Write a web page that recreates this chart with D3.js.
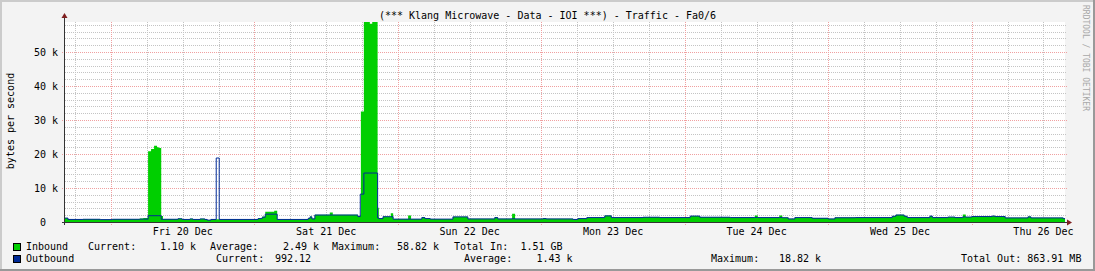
<!DOCTYPE html>
<html><head><meta charset="utf-8">
<script src="https://cdn.jsdelivr.net/npm/d3@7"></script>
<style>
body{margin:0;background:#f3f3f3}
svg{display:block}
text{font-family:"DejaVu Sans Mono",monospace;font-size:10px;white-space:pre}
</style>
</head><body><svg id="c" width="1095" height="271"></svg>
<script>
// ---------- data ----------
const title = "(*** Klang Microwave - Data - IOI ***) - Traffic - Fa0/6";
const yAxisTitle = "bytes per second";
const watermark = "RRDTOOL / TOBI OETIKER";
const startTime = Date.UTC(2013, 11, 19, 16, 18);
const spanHours = 167.3;
// hours since start where the 5-min averages change (step data)
const hours = [0,0.5,3.0,5.9,7.9,12.5,13.1,13.9,14.4,14.9,15.4,15.7,16.1,16.4,18.9,19.6,20.9,21.4,22.6,23.4,23.8,24.4,25.3,25.8,
  32.3,33.0,33.5,35.0,35.5,40.7,41.0,41.3,41.8,44.3,44.8,49.0,49.4,49.5,50.0,51.0,51.4,52.3,52.5,53.2,54.5,54.9,57.4,57.9,
  59.7,60.2,61.1,64.9,67.4,71.9,72.4,74.8,75.3,80.0,80.5,85.0,85.8,87.3,90.3,91.4,96.7,99.5,104.6,106.2,111.3,115.4,115.9,
  119.5,120.0,121.0,122.1,125.0,127.7,128.8,132.2,138.4,139.0,140.4,140.9,144.7,145.1,147.7,148.9,150.2,150.7,151.7,155.1,
  155.6,157.3,161.1,161.6,167.0];
const inbound = [1200,800,850,750,850,1000,1200,20800,21500,22400,22000,21800,1800,850,1000,800,950,800,950,800,600,800,800,800,
  1100,1600,3000,3300,800,1200,1600,1000,2100,2800,2100,1800,2100,32500,58820,58300,58820,4200,1200,1600,2600,900,1900,900,
  1500,1100,900,1550,950,1500,950,2400,950,1200,950,800,1100,1350,1900,1350,1450,1350,1800,1450,1350,1900,1350,
  1900,1300,950,1350,1150,950,1300,1350,1800,2100,1800,1350,1800,1350,1500,1350,2200,1500,1650,1800,
  1650,1250,1600,1250,1100];
const outbound = [1150,750,800,700,800,850,850,1850,1850,1850,1850,1850,800,800,950,750,900,750,900,750,550,750,18820,750,
  1000,1400,2300,2300,750,1100,1500,900,2050,2050,2050,1600,8200,8200,14400,14400,14400,1200,1000,1550,1550,850,850,850,
  1300,1000,850,1500,900,1300,900,950,900,1000,900,750,1000,1300,1800,1300,1400,1300,1750,1400,1300,1350,1300,
  1350,1250,900,1300,1100,900,1250,1300,1700,2050,1700,1300,1750,1300,1450,1300,1500,1450,1600,1750,
  1600,1200,1500,1200,992];
const yMax = 58820;
const yTicks = [0,10000,20000,30000,40000,50000];
const yTickNums = ["0","10","20","30","40","50"];
const yTickUnits = ["","k","k","k","k","k"];
const dayLabels = ["Fri 20 Dec","Sat 21 Dec","Sun 22 Dec","Mon 23 Dec","Tue 24 Dec","Wed 25 Dec","Thu 26 Dec"];
const seriesNames = ["Inbound","Outbound"];
const inStats = ["1.10 k","2.49 k","58.82 k","1.51 GB"];
const outStats = ["992.12","1.43 k","18.82 k","863.91 MB"];

// ---------- drawing ----------
const W = 1095, H = 271;
const L = 65, R = 1065, T = 22, B = 222;
const GREEN = "#00cf00", BLUE = "#002a97";
const svg = d3.select("#c");
const t1 = startTime + spanHours * 3600e3;
const x = d3.scaleUtc().domain([startTime, t1]).range([L, R]);
const y = d3.scaleLinear().domain([0, yMax]).range([B, T]);

svg.append("rect").attr("width", W).attr("height", H).attr("fill", "#f3f3f3");
// frame
svg.append("rect").attr("x",0).attr("y",0).attr("width",W).attr("height",2).attr("fill","#cbcbcb");
svg.append("rect").attr("x",0).attr("y",0).attr("width",2).attr("height",H).attr("fill","#cbcbcb");
svg.append("rect").attr("x",0).attr("y",H-2).attr("width",W).attr("height",2).attr("fill","#999");
svg.append("rect").attr("x",W-2).attr("y",0).attr("width",2).attr("height",H).attr("fill","#999");

svg.append("rect").attr("x",L).attr("y",T).attr("width",R-L).attr("height",B-T).attr("fill","#fff");

// grid
const g = svg.append("g").attr("shape-rendering","crispEdges").attr("stroke-dasharray","1,1");
const minorY = d3.range(2000, yMax, 2000).filter(v => v % 10000 !== 0);
g.selectAll(".hy").data(minorY).join("line")
  .attr("x1", L).attr("x2", R+2).attr("y1", d => Math.round(y(d))+0.5).attr("y2", d => Math.round(y(d))+0.5)
  .attr("stroke","#c4c4c4");
const days = d3.utcDay.range(startTime, t1);
const minorX = d3.utcHour.every(6).range(startTime, t1).filter(d => d.getUTCHours() !== 0);
g.selectAll(".vx").data(minorX).join("line")
  .attr("x1", d => Math.round(x(d))+0.5).attr("x2", d => Math.round(x(d))+0.5).attr("y1", T).attr("y2", B)
  .attr("stroke","#c4c4c4");
g.selectAll(".my").data(yTicks.slice(1)).join("line")
  .attr("x1", L-3).attr("x2", R+2).attr("y1", d => Math.round(y(d))+0.5).attr("y2", d => Math.round(y(d))+0.5)
  .attr("stroke","#f0a0a0");
g.selectAll(".mx").data(days).join("line")
  .attr("x1", d => Math.round(x(d))+0.5).attr("x2", d => Math.round(x(d))+0.5).attr("y1", T).attr("y2", B+3)
  .attr("stroke","#f0a0a0");

// data
const pts = hours.map((h, i) => ({t: startTime + h*3600e3, i: inbound[i], o: outbound[i]}));
pts.push({t: t1, i: inbound[inbound.length-1], o: outbound[outbound.length-1]});
svg.append("path").datum(pts)
  .attr("d", d3.area().curve(d3.curveStepAfter).x(d => x(d.t)).y0(B).y1(d => y(d.i)))
  .attr("fill", GREEN);
svg.append("path").datum(pts)
  .attr("d", d3.line().curve(d3.curveStepAfter).x(d => x(d.t)).y(d => y(d.o)))
  .attr("fill","none").attr("stroke", BLUE).attr("stroke-width",1);

// axes
const ax = svg.append("g").attr("shape-rendering","crispEdges");
ax.append("line").attr("x1",L-3).attr("x2",R+3).attr("y1",B+0.5).attr("y2",B+0.5).attr("stroke","#333");
ax.append("line").attr("x1",L-0.5).attr("x2",L-0.5).attr("y1",B+3).attr("y2",T-4).attr("stroke","#333");
svg.append("path").attr("d",`M${R+2},${B-2.5}L${R+7},${B+0.5}L${R+2},${B+3.5}Z`).attr("fill","#7f1f1f");
svg.append("path").attr("d",`M${L-3.5},${T-4}L${L-0.5},${T-9}L${L+2.5},${T-4}Z`).attr("fill","#7f1f1f");

// y labels
svg.selectAll(".yl").data(yTicks).join("text")
  .attr("x", 46).attr("y", d => y(d) + 3.6).attr("text-anchor","end")
  .text((d,i) => yTickNums[i]);
svg.selectAll(".yu").data(yTicks).join("text")
  .attr("x", 52).attr("y", d => y(d) + 3.6)
  .text((d,i) => yTickUnits[i]);

// x labels at noon
svg.selectAll(".xl").data(dayLabels).join("text")
  .attr("x", (d,i) => x(d3.utcHour.offset(days[i], 12))).attr("y", 235).attr("text-anchor","middle")
  .text(d => d);

// titles
svg.append("text").attr("x", 547.5).attr("y", 19).attr("text-anchor","middle").text(title);
svg.append("text").attr("transform","translate(14,121) rotate(-90)").attr("text-anchor","middle").text(yAxisTitle);
svg.append("text").attr("transform","translate(1083,5) rotate(90)").attr("fill","#a8a8a8")
  .style("font-size","8px").text(watermark);

// legend
const leg = svg.append("g");
leg.append("rect").attr("x",13.5).attr("y",243.5).attr("width",7).attr("height",7).attr("fill",GREEN).attr("stroke","#000");
leg.append("rect").attr("x",13.5).attr("y",255.5).attr("width",7).attr("height",7).attr("fill",BLUE).attr("stroke","#000");
const row1 = [[26,seriesNames[0]],[88,"Current:"],[160,inStats[0]],[210,"Average:"],[283,inStats[1]],
  [332,"Maximum:"],[397,inStats[2]],[454,"Total In:"],[520.5,inStats[3]]];
const row2 = [[26,seriesNames[1]],[216,"Current:"],[275,outStats[0]],[464,"Average:"],[536.5,outStats[1]],
  [711,"Maximum:"],[779,outStats[2]],[961,"Total Out: " + outStats[3]]];
leg.selectAll(".r1").data(row1).join("text").attr("x", d => d[0]).attr("y", 250).text(d => d[1]);
leg.selectAll(".r2").data(row2).join("text").attr("x", d => d[0]).attr("y", 262).text(d => d[1]);
</script>
</body></html>
